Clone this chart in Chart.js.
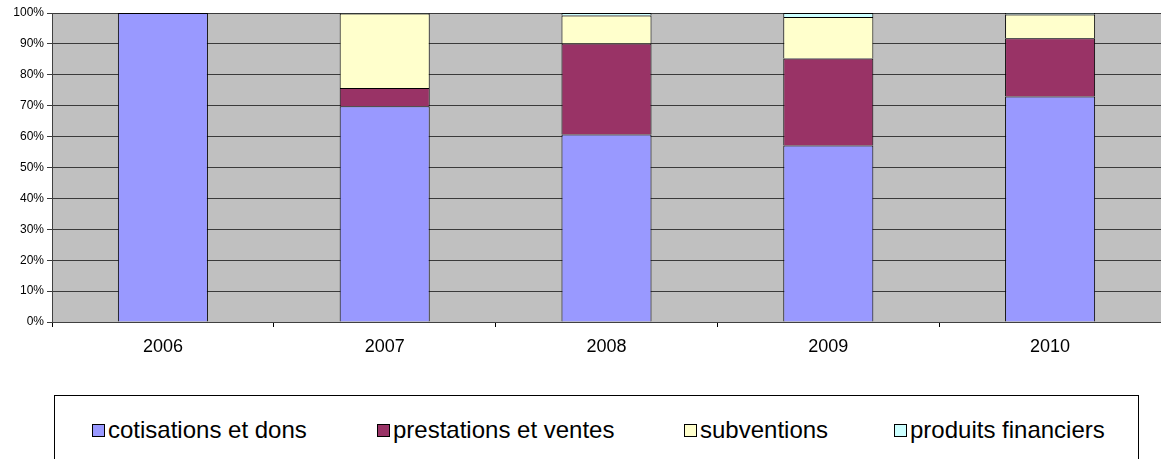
<!DOCTYPE html>
<html>
<head>
<meta charset="utf-8">
<script src="https://cdn.jsdelivr.net/npm/chart.js@4/dist/chart.umd.min.js"></script>
<style>
  html, body { margin: 0; padding: 0; background: #fff; }
  #wrap { position: relative; width: 1161px; height: 459px; overflow: hidden; font-family: "Liberation Sans", Arial, sans-serif; }
  #chart-box { position: absolute; left: 0; top: 0; width: 1161px; height: 370px; }
  #legend { position: absolute; left: 54px; top: 395px; width: 1085px; height: 80px; border: 1px solid #000; box-sizing: border-box; }
  .item { position: absolute; top: 20px; font-size: 24px; line-height: 28px; color: #000; white-space: nowrap; }
  .sw { display: inline-block; width: 11px; height: 11px; border: 1px solid #000; margin-right: 3px; vertical-align: 1px; }
</style>
</head>
<body>
<div id="wrap">
  <div id="chart-box"><canvas id="chart" width="1161" height="370"></canvas></div>
  <div id="legend"></div>
</div>
<script>
// données (% du total par année)
const annees = ['2006', '2007', '2008', '2009', '2010'];
const cotisations = [100, 69.8, 60.7, 57.1, 73.0];
const prestations = [0, 5.9, 29.4, 28.2, 18.8];
const subventions = [0, 24.1, 9.1, 13.4, 7.7];
const produitsFin = [0, 0.2, 0.8, 1.3, 0.5];
const yTicks = [0, 10, 20, 30, 40, 50, 60, 70, 80, 90, 100];

const series = [
    { label: 'cotisations et dons', data: cotisations, color: '#9999FF' },
    { label: 'prestations et ventes', data: prestations, color: '#993366' },
    { label: 'subventions', data: subventions, color: '#FFFFCC' },
    { label: 'produits financiers', data: produitsFin, color: '#CCFFFF' }
];

// fond gris de la zone de traçage
const fondGris = {
    id: 'fondGris',
    beforeDraw(chart) {
        const a = chart.chartArea;
        const c = chart.ctx;
        c.save();
        c.fillStyle = '#C0C0C0';
        c.fillRect(a.left, a.top, a.right - a.left, a.bottom - a.top);
        c.restore();
    }
};

new Chart(document.getElementById('chart'), {
    type: 'bar',
    data: {
        labels: annees,
        datasets: series.map(s => ({
            label: s.label,
            data: s.data,
            backgroundColor: s.color,
            borderColor: '#000',
            borderWidth: 1,
            borderSkipped: 'start',
            categoryPercentage: 1,
            barPercentage: 0.406
        }))
    },
    options: {
        responsive: false,
        animation: false,
        layout: { padding: { top: 13, right: 0, left: 0, bottom: 0 } },
        plugins: { legend: { display: false }, tooltip: { enabled: false } },
        scales: {
            x: {
                stacked: true,
                offset: true,
                grid: { offset: true, drawOnChartArea: false, color: '#000', tickLength: 5 },
                border: { color: '#404040', width: 1 },
                ticks: { color: '#000', font: { family: 'Liberation Sans', size: 18 }, padding: 9 },
                afterFit: s => { s.height = 48; }
            },
            y: {
                stacked: true,
                min: 0,
                max: 100,
                afterBuildTicks: s => { s.ticks = yTicks.map(v => ({ value: v })); },
                grid: { color: '#3a3a3a', tickLength: 5 },
                border: { color: '#404040', width: 1 },
                ticks: { color: '#000', font: { family: 'Liberation Sans', size: 12 }, padding: 3, callback: v => v + '%' },
                afterFit: s => { s.width = 52; }
            }
        }
    },
    plugins: [fondGris]
});

// légende HTML
const legendX = [37, 322, 629, 839];
const leg = document.getElementById('legend');
series.forEach((s, i) => {
    const d = document.createElement('div');
    d.className = 'item';
    d.style.left = legendX[i] + 'px';
    d.innerHTML = `<span class="sw" style="background:${s.color}"></span>${s.label}`;
    leg.appendChild(d);
});
</script>
</body>
</html>
